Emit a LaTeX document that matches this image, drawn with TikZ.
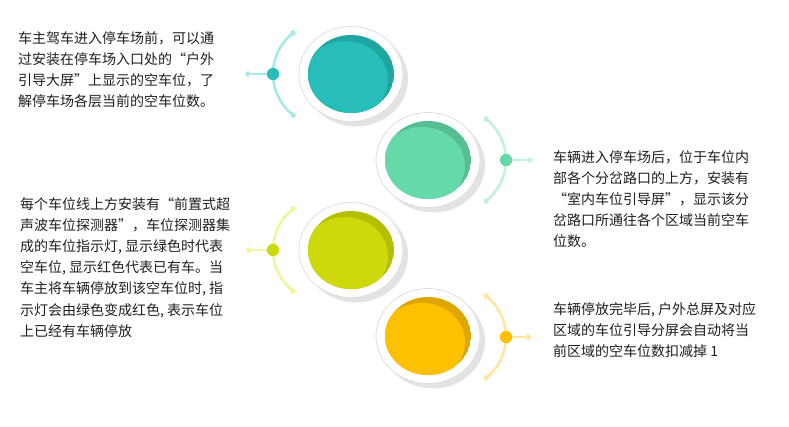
\documentclass[tikz,border=0pt]{standalone}
\usepackage{fontspec}
\newfontfamily\cjk{Noto Sans CJK SC}
\usetikzlibrary{shapes.geometric}
\definecolor{tealM}{HTML}{27BEB9}
\definecolor{tealD}{HTML}{1FA6A1}
\definecolor{tealL}{HTML}{A6E9E6}
\definecolor{greenM}{HTML}{66D9AA}
\definecolor{greenD}{HTML}{57BD93}
\definecolor{greenL}{HTML}{C4F1DD}
\definecolor{limeM}{HTML}{CDD90A}
\definecolor{limeD}{HTML}{B5BE04}
\definecolor{limeL}{HTML}{EFF59C}
\definecolor{goldM}{HTML}{FFC000}
\definecolor{goldD}{HTML}{E0A600}
\definecolor{goldL}{HTML}{FFE5A0}
\newcommand\ringdisc[5]{%
  \fill[black!11] (#1+5,#2+5) ellipse [x radius=52, y radius=47.5];
  \node[outerdisc] (#3) at (#1,#2) {};
  \begin{scope}
    \clip (#1,#2) ellipse [x radius=43, y radius=39];
    \fill[#5] (#1,#2) ellipse [x radius=43, y radius=39];
    \fill[#4] (#1-6,#2+6) ellipse [x radius=43, y radius=39];
  \end{scope}}
\begin{document}
\begin{tikzpicture}[x=1pt,y=-1pt,
  outerdisc/.style={ellipse, minimum width=104pt, minimum height=95pt, inner sep=0pt, draw=black!13, line width=0.8pt, fill=white},
  hubdot/.style={circle, inner sep=0pt, minimum size=12pt, fill=#1},
  enddot/.style={circle, inner sep=0pt, minimum size=5.5pt, fill=#1},
  arcline/.style={draw=#1, line width=2.6pt},
  txt/.style={anchor=north west, inner sep=0pt, align=left, text=black!88,
    font=\cjk\fontsize{14pt}{21.2pt}\selectfont}]
\useasboundingbox (0,0) rectangle (789,426);
\fill[white] (0,0) rectangle (789,426);

% ---- step 1 (teal) ----
\ringdisc{351}{74}{c1}{tealM}{tealD}
\coordinate (a1s) at (293,33);
\draw[arcline=tealL] (a1s) arc[start angle=232, end angle=128, radius=52];
\node[enddot=tealL] (a1t) at (293,33) {};
\node[enddot=tealL] (a1b) at (293,115) {};
\node[enddot=tealL] (e1) at (248,74) {};
\node[hubdot=tealM] (h1) at (273,74) {};
\draw[arcline=tealL] (h1) -- (e1);
\node[hubdot=tealM] at (h1) {};

% ---- step 2 (green) ----
\ringdisc{428}{160}{c2}{greenM}{greenD}
\coordinate (a2s) at (486,119);
\draw[arcline=greenL] (a2s) arc[start angle=-52, end angle=52, radius=52];
\node[enddot=greenL] (a2t) at (486,119) {};
\node[enddot=greenL] (a2b) at (486,201) {};
\node[enddot=greenL] (e2) at (530,160) {};
\node[hubdot=greenM] (h2) at (506,160) {};
\draw[arcline=greenL] (h2) -- (e2);
\node[hubdot=greenM] at (h2) {};

% ---- step 3 (lime) ----
\ringdisc{351}{250}{c3}{limeM}{limeD}
\coordinate (a3s) at (293,209);
\draw[arcline=limeL] (a3s) arc[start angle=232, end angle=128, radius=52];
\node[enddot=limeL] (a3t) at (293,209) {};
\node[enddot=limeL] (a3b) at (293,291) {};
\node[enddot=limeL] (e3) at (249,250) {};
\node[hubdot=limeM] (h3) at (273,250) {};
\draw[arcline=limeL] (h3) -- (e3);
\node[hubdot=limeM] at (h3) {};

% ---- step 4 (gold) ----
\ringdisc{428}{336}{c4}{goldM}{goldD}
\coordinate (a4s) at (486,296);
\draw[arcline=goldL] (a4s) arc[start angle=-52, end angle=52, radius=52];
\node[enddot=goldL] (a4t) at (486,296) {};
\node[enddot=goldL] (a4b) at (486,378) {};
\node[enddot=goldL] (e4) at (528,337) {};
\node[hubdot=goldM] (h4) at (506,337) {};
\draw[arcline=goldL] (h4) -- (e4);
\node[hubdot=goldM] at (h4) {};

% ---- texts ----
\node[txt] (t1) at (18,31) {车主驾车进入停车场前，可以通\\过安装在停车场入口处的“户外\\引导大屏”上显示的空车位，了\\解停车场各层当前的空车位数。};
\node[txt] (t2) at (553,150) {车辆进入停车场后，位于车位内\\部各个分岔路口的上方，安装有\\“室内车位引导屏”，显示该分\\岔路口所通往各个区域当前空车\\位数。};
\node[txt] (t3) at (20,197) {每个车位线上方安装有“前置式超\\声波车位探测器”，车位探测器集\\成的车位指示灯, 显示绿色时代表\\空车位, 显示红色代表已有车。当\\车主将车辆停放到该空车位时, 指\\示灯会由绿色变成红色, 表示车位\\上已经有车辆停放};
\node[txt] (t4) at (553,302) {车辆停放完毕后, 户外总屏及对应\\区域的车位引导分屏会自动将当\\前区域的空车位数扣减掉 1};
\end{tikzpicture}
\end{document}
